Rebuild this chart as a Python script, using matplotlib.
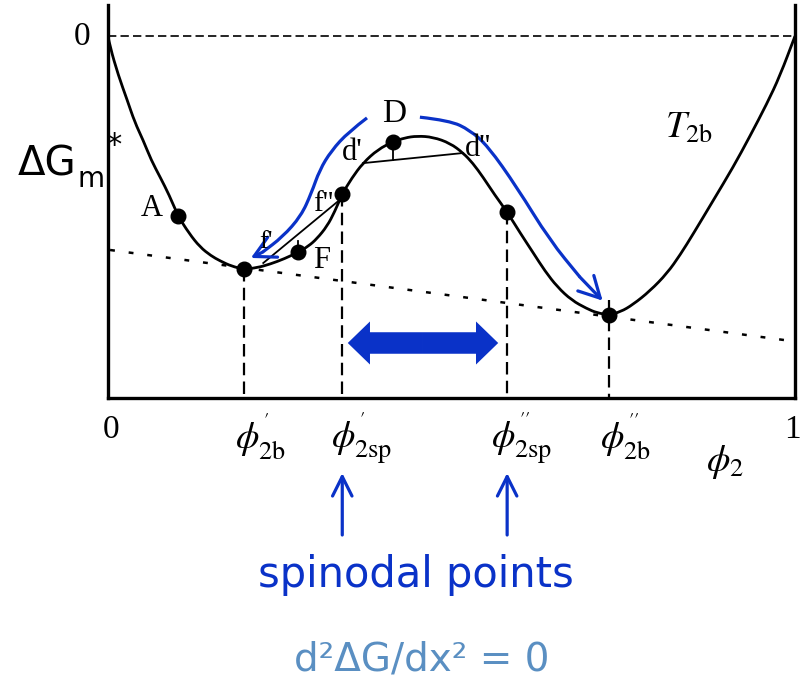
import numpy as np
import matplotlib
matplotlib.use("Agg")
import matplotlib.pyplot as plt
from matplotlib.patches import FancyArrowPatch, PathPatch
from matplotlib.path import Path

plt.rcParams['mathtext.fontset'] = 'stix'
plt.rcParams['lines.scale_dashes'] = False

# free energy curve (phi_2, dG scaled so the bottom axis is -1)
phi = [0, 0.003, 0.015, 0.028, 0.039, 0.051, 0.063, 0.076, 0.089, 0.102, 0.118, 0.134, 0.150, 0.163,
       0.180, 0.198, 0.217, 0.236, 0.257, 0.277, 0.292, 0.304, 0.319, 0.330, 0.341, 0.355, 0.371,
       0.393, 0.415, 0.432, 0.450, 0.473, 0.498, 0.517, 0.531, 0.546, 0.563, 0.581, 0.600, 0.619,
       0.636, 0.654, 0.675, 0.697, 0.712, 0.729, 0.746, 0.764, 0.789, 0.814, 0.833, 0.852, 0.881,
       0.910, 0.934, 0.959, 0.978, 1.0]
dG = [0, -0.030, -0.108, -0.177, -0.238, -0.287, -0.343, -0.390, -0.439, -0.497, -0.545, -0.583,
      -0.607, -0.621, -0.636, -0.644, -0.640, -0.630, -0.615, -0.597, -0.580, -0.560, -0.525,
      -0.485, -0.436, -0.392, -0.351, -0.313, -0.292, -0.281, -0.276, -0.279, -0.296, -0.323,
      -0.351, -0.390, -0.439, -0.486, -0.544, -0.599, -0.649, -0.693, -0.730, -0.753, -0.765,
      -0.770, -0.762, -0.742, -0.704, -0.655, -0.604, -0.546, -0.454, -0.362, -0.278, -0.187,
      -0.110, 0]

# marked points: A, binodal', F, spinodal', D, spinodal'', binodal''
dot_phi = [0.102, 0.198, 0.277, 0.341, 0.415, 0.581, 0.729]
dot_dG = [-0.497, -0.644, -0.597, -0.436, -0.293, -0.486, -0.770]

# common tangent (dotted)
tan_phi = [0.003, 0.985]
tan_dG = [-0.591, -0.840]

# vertical guides: binodal', spinodal', spinodal'', binodal''
guide_phi = [0.198, 0.341, 0.581, 0.729]
guide_top = [-0.644, -0.436, -0.486, -0.730]

# chords d'-d'' and f'-f''
chord_d_phi, chord_d_dG = [0.371, 0.517], [-0.351, -0.323]
chord_f_phi, chord_f_dG = [0.226, 0.337], [-0.627, -0.453]
tick_D = ([0.415, 0.415], [-0.293, -0.343])
tick_F = ([0.277, 0.277], [-0.597, -0.565])

# blue curved arrows
left_arr_phi = [0.377, 0.350, 0.325, 0.308, 0.296, 0.281, 0.254, 0.225, 0.208]
left_arr_dG = [-0.226, -0.265, -0.317, -0.370, -0.434, -0.497, -0.555, -0.597, -0.613]
right_arr_phi = [0.454, 0.497, 0.527, 0.553, 0.595, 0.643, 0.687, 0.720]
right_arr_dG = [-0.224, -0.233, -0.260, -0.304, -0.417, -0.564, -0.666, -0.731]

# horizontal double arrow
darrow_phi = [0.349, 0.568]
darrow_dG = -0.848

BLUE = '#0a32c8'
LIGHTBLUE = '#5a8fc2'


def smooth(x, y):
    # quadratic bezier through the midpoints of the read points
    pts = np.column_stack([x, y])
    verts = [pts[0]]
    codes = [Path.MOVETO]
    for i in range(1, len(pts) - 1):
        verts += [pts[i], (pts[i] + pts[i + 1]) / 2]
        codes += [Path.CURVE3, Path.CURVE3]
    verts.append(pts[-1])
    codes.append(Path.LINETO)
    return Path(verts, codes)


fig = plt.figure(figsize=(8.07, 6.80), dpi=100)
ax = fig.add_axes([108 / 807, 1 - 398 / 680, 687 / 807, 393 / 680])
ax.set_xlim(0, 1)
ax.set_ylim(-1, 0.086)
for s in ['left', 'right', 'bottom']:
    ax.spines[s].set_linewidth(2.4)
ax.spines['top'].set_visible(False)
ax.set_xticks([])
ax.set_yticks([])

# zero line
ax.plot([0, 1], [0, 0], color='k', lw=1.2, dashes=(6, 3))
ax.plot(tan_phi, tan_dG, color='k', lw=1.8, dashes=(3.5, 10))
for x, top in zip(guide_phi, guide_top):
    ax.plot([x, x], [top, -1], color='k', lw=1.6, dashes=(9, 4.5))

ax.add_patch(PathPatch(smooth(phi, dG), fill=False, color='k', lw=2.0))
ax.plot(chord_d_phi, chord_d_dG, color='k', lw=1.3)
ax.plot(chord_f_phi, chord_f_dG, color='k', lw=1.3)
ax.plot(*tick_D, color='k', lw=1.3)
ax.plot(*tick_F, color='k', lw=1.3)
ax.plot(dot_phi, dot_dG, 'o', color='k', ms=10.5)

# curved blue arrows
for ax_phi, ax_dG in [(left_arr_phi, left_arr_dG), (right_arr_phi, right_arr_dG)]:
    ax.add_patch(PathPatch(smooth(ax_phi[:-1], ax_dG[:-1]), fill=False, color=BLUE, lw=2.3,
                           capstyle='butt'))
    ax.annotate('', xy=(ax_phi[-1], ax_dG[-1]), xytext=(ax_phi[-2], ax_dG[-2]),
                arrowprops=dict(arrowstyle='->,head_length=0.75,head_width=0.4', color=BLUE, lw=2.3,
                                mutation_scale=20, shrinkA=0, shrinkB=0))

# block double arrow
mid = (darrow_phi[0] + darrow_phi[1]) / 2
for end in darrow_phi:
    ax.add_patch(FancyArrowPatch((mid, darrow_dG), (end, darrow_dG),
                                 arrowstyle='simple,head_length=1.6,head_width=3.1,tail_width=1.55',
                                 mutation_scale=10, color=BLUE, lw=0, shrinkA=0, shrinkB=0))

# spinodal arrows below the axis
for x in guide_phi[1:3]:
    ax.annotate('', xy=(x, 1 - 473 / 680), xycoords=('data', 'figure fraction'),
                xytext=(x, 1 - 535 / 680), textcoords=('data', 'figure fraction'),
                arrowprops=dict(arrowstyle='->,head_length=0.7,head_width=0.35', color=BLUE, lw=2.3,
                                mutation_scale=20, shrinkA=0, shrinkB=0))


def fpos(px, py):
    return px / 807, 1 - py / 680


serif = dict(family='Liberation Serif', color='k')
fig.text(*fpos(82, 37), '0', ha='center', va='center', size=24, **serif)
fig.text(*fpos(111, 430), '0', ha='center', va='center', size=24, **serif)
fig.text(*fpos(792, 430), '1', ha='center', va='center', size=24, **serif)
fig.text(*fpos(235, 436), r"$\phi^{'}_{2\mathrm{b}}$", ha='left', va='center', size=27)
fig.text(*fpos(331, 438), r"$\phi^{'}_{2\mathrm{sp}}$", ha='left', va='center', size=27)
fig.text(*fpos(491, 438), r"$\phi^{''}_{2\mathrm{sp}}$", ha='left', va='center', size=27)
fig.text(*fpos(600, 436), r"$\phi^{''}_{2\mathrm{b}}$", ha='left', va='center', size=27)
fig.text(*fpos(706, 462), r"$\phi_{2}$", ha='left', va='center', size=27)
fig.text(*fpos(665, 128), r"$T_{2\mathrm{b}}$", ha='left', va='center', size=27)

fig.text(*fpos(152, 208), 'A', ha='center', va='center', size=22, **serif)
fig.text(*fpos(322, 261), 'F', ha='center', va='center', size=22, **serif)
fig.text(*fpos(323, 204), "f''", ha='center', va='center', size=21, **serif)
fig.text(*fpos(266, 242), "f'", ha='center', va='center', size=19, **serif)
fig.text(*fpos(352, 153), "d'", ha='center', va='center', size=22, **serif)
fig.text(*fpos(394, 114), 'D', ha='center', va='center', size=24, **serif)
fig.text(*fpos(478, 148), "d''", ha='center', va='center', size=22, **serif)

sans = dict(family='DejaVu Sans', color='k')
fig.text(*fpos(18, 164), 'ΔG', ha='left', va='center', size=29, **sans)
fig.text(*fpos(78, 179), 'm', ha='left', va='center', size=20, **sans)
fig.text(*fpos(114, 146), '*', ha='center', va='center', size=22, **sans)

fig.text(*fpos(416, 575), 'spinodal points', ha='center', va='center', size=30,
         family='DejaVu Sans', color=BLUE)
fig.text(*fpos(422, 660), 'd²ΔG/dx² = 0', ha='center', va='center', size=28,
         family='DejaVu Sans', color=LIGHTBLUE)

fig.savefig('out.png', dpi=100)
